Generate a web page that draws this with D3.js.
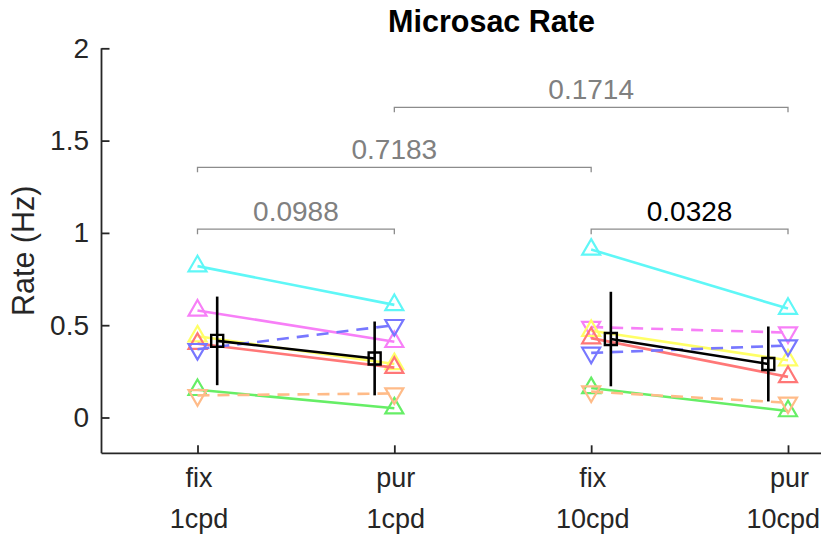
<!DOCTYPE html>
<html>
<head>
<meta charset="utf-8">
<script src="https://cdn.jsdelivr.net/npm/d3@7"></script>
<style>
  body { margin: 0; background: #fff; }
  svg text { font-family: "Liberation Sans", Arial, Helvetica, sans-serif; }
</style>
</head>
<body>
<div id="graph"></div>
<script>
//Microsac rate chart

// x tick labels (two lines each)
var tickTop = ["fix", "pur", "fix", "pur"];
var tickBottom = ["1cpd", "1cpd", "10cpd", "10cpd"];
var yTicks = [0, 0.5, 1, 1.5, 2];

// one entry per subject, same order in every array
var subjectColors = ["#5ff7f7", "#f77ff7", "#ffff66", "#ff7777", "#7777ff", "#66ee66", "#ffbb88"];

// 1cpd pair (condition 1 -> 2)
var fix1cpd = [0.82, 0.58, 0.44, 0.40, 0.37, 0.15, 0.12];
var pur1cpd = [0.61, 0.41, 0.29, 0.27, 0.50, 0.05, 0.13];
var dashed1cpd = [false, false, false, false, true, false, true];

// 10cpd pair (condition 3 -> 4)
var fix10cpd = [0.91, 0.49, 0.47, 0.43, 0.35, 0.16, 0.14];
var pur10cpd = [0.59, 0.46, 0.31, 0.22, 0.39, 0.035, 0.08];
var dashed10cpd = [false, true, false, false, true, false, true];

// group means and error bars
var meanRate = [0.415, 0.32, 0.425, 0.29];
var meanErr = [0.24, 0.20, 0.256, 0.203];

// significance brackets
var bracketFrom = [1, 3, 1, 2];
var bracketTo = [2, 4, 3, 4];
var bracketLevel = [1.02, 1.02, 1.355, 1.68];
var bracketP = ["0.0988", "0.0328", "0.7183", "0.1714"];
var bracketSignif = [false, true, false, false];

(function(){
	"use strict";

	var width = 821, height = 535;
	var axisLeft = 101.5, axisBottom = 453.3, axisTop = 48.3;

	var svg = d3.select("#graph").append("svg")
		.attr("width", width)
		.attr("height", height);

	var xScale = d3.scaleLinear()
		.domain([1, 4])
		.range([197.5, 788]);

	var yScale = d3.scaleLinear()
		.domain([0, 2])
		.range([417.5, axisTop]);

	var axisColor = "#262626";

	//axis lines
	svg.append("line")
		.attr("x1", axisLeft).attr("x2", axisLeft)
		.attr("y1", axisTop).attr("y2", axisBottom)
		.attr("stroke", axisColor).attr("stroke-width", 1.8);
	svg.append("line")
		.attr("x1", axisLeft).attr("x2", width)
		.attr("y1", axisBottom).attr("y2", axisBottom)
		.attr("stroke", axisColor).attr("stroke-width", 1.8);

	//y axis ticks, pointing inward
	var yAxis = d3.axisLeft(yScale)
		.tickValues(yTicks)
		.tickSizeInner(-8)
		.tickSizeOuter(0)
		.tickPadding(12.5)
		.tickFormat(d3.format("~g"));
	var gy = svg.append("g")
		.attr("transform", "translate(" + axisLeft + ",0)")
		.call(yAxis);
	gy.select(".domain").remove();
	gy.selectAll("line").attr("stroke", axisColor).attr("stroke-width", 1.8);
	gy.selectAll("text")
		.attr("fill", axisColor)
		.style("font-size", "28px");

	//x axis ticks, pointing inward
	var xAxis = d3.axisBottom(xScale)
		.tickValues([1, 2, 3, 4])
		.tickSizeInner(-8)
		.tickSizeOuter(0)
		.tickFormat("");
	var gx = svg.append("g")
		.attr("transform", "translate(0," + axisBottom + ")")
		.call(xAxis);
	gx.select(".domain").remove();
	gx.selectAll("line").attr("stroke", axisColor).attr("stroke-width", 1.8);

	//two-line tick labels
	var labels = svg.append("g").selectAll("text")
		.data(tickTop)
		.enter()
		.append("text")
		.attr("text-anchor", "middle")
		.attr("fill", axisColor)
		.style("font-size", "27px");
	labels.append("tspan")
		.attr("x", function(d, i){ return xScale(i + 1) + 1.5; })
		.attr("y", 486.5)
		.text(function(d){ return d; });
	labels.append("tspan")
		.attr("x", function(d, i){ return xScale(i + 1) + 1.5; })
		.attr("y", 528)
		.text(function(d, i){ return tickBottom[i]; })
		.each(function(){
			//keep the last label inside the page
			var w = this.getComputedTextLength();
			var cx = +d3.select(this).attr("x");
			if (cx + w / 2 > width - 1) {
				d3.select(this).attr("x", width - 1 - w / 2);
			}
		});

	//y label
	svg.append("text")
		.attr("text-anchor", "middle")
		.attr("transform", "translate(34," + ((axisTop + axisBottom) / 2) + ")rotate(-90)")
		.attr("fill", axisColor)
		.style("font-size", "30.5px")
		.text("Rate (Hz)");

	//title
	svg.append("text")
		.attr("text-anchor", "middle")
		.attr("x", 491.5)
		.attr("y", 32)
		.attr("fill", "#000")
		.style("font-size", "30.5px")
		.style("font-weight", "bold")
		.text("Microsac Rate");

	//brackets
	var brackets = svg.append("g").selectAll("g")
		.data(bracketP)
		.enter()
		.append("g");
	brackets.append("path")
		.attr("d", function(d, i){
			var x1 = xScale(bracketFrom[i]), x2 = xScale(bracketTo[i]), y = yScale(bracketLevel[i]);
			return "M" + x1 + "," + (y + 5) + "V" + y + "H" + x2 + "V" + (y + 5);
		})
		.attr("fill", "none")
		.attr("stroke", "#8c8c8c")
		.attr("stroke-width", 1.3);
	brackets.append("text")
		.attr("text-anchor", "middle")
		.attr("x", function(d, i){ return (xScale(bracketFrom[i]) + xScale(bracketTo[i])) / 2; })
		.attr("y", function(d, i){ return yScale(bracketLevel[i]) - 8; })
		.attr("fill", function(d, i){ return bracketSignif[i] ? "#000" : "#808080"; })
		.style("font-size", "28px")
		.text(function(d){ return d; });

	//subject lines and markers
	var pairs = [
		{ x: [1, 2], a: fix1cpd, b: pur1cpd, dashed: dashed1cpd },
		{ x: [3, 4], a: fix10cpd, b: pur10cpd, dashed: dashed10cpd }
	];
	var tri = d3.symbol().type(d3.symbolTriangle).size(140);
	var plot = svg.append("g");

	pairs.forEach(function(p){
		subjectColors.forEach(function(c, s){
			var pts = [[p.x[0], p.a[s]], [p.x[1], p.b[s]]];
			plot.append("path")
				.attr("d", d3.line()
					.x(function(d){ return xScale(d[0]); })
					.y(function(d){ return yScale(d[1]); })(pts))
				.attr("fill", "none")
				.attr("stroke", c)
				.attr("stroke-width", 2.6)
				.attr("stroke-dasharray", p.dashed[s] ? "12,8" : null);
			pts.forEach(function(d){
				plot.append("path")
					.attr("d", tri())
					.attr("transform", "translate(" + xScale(d[0]) + "," + yScale(d[1]) + ")" + (p.dashed[s] ? "rotate(180)" : ""))
					.attr("fill", "none")
					.attr("stroke", c)
					.attr("stroke-width", 2.2);
			});
		});
	});

	//means with error bars, nudged inward from each tick
	var meanX = [1.1, 1.9, 3.1, 3.9];
	var sq = d3.symbol().type(d3.symbolSquare).size(144);
	[[0, 1], [2, 3]].forEach(function(pair){
		plot.append("path")
			.attr("d", d3.line()
				.x(function(i){ return xScale(meanX[i]); })
				.y(function(i){ return yScale(meanRate[i]); })(pair))
			.attr("fill", "none")
			.attr("stroke", "#000")
			.attr("stroke-width", 2.6);
	});
	meanRate.forEach(function(m, i){
		plot.append("line")
			.attr("x1", xScale(meanX[i])).attr("x2", xScale(meanX[i]))
			.attr("y1", yScale(m - meanErr[i])).attr("y2", yScale(m + meanErr[i]))
			.attr("stroke", "#000")
			.attr("stroke-width", 2.6);
		plot.append("path")
			.attr("d", sq())
			.attr("transform", "translate(" + xScale(meanX[i]) + "," + yScale(m) + ")")
			.attr("fill", "none")
			.attr("stroke", "#000")
			.attr("stroke-width", 2.4);
	});

})();
</script>
</body>
</html>
